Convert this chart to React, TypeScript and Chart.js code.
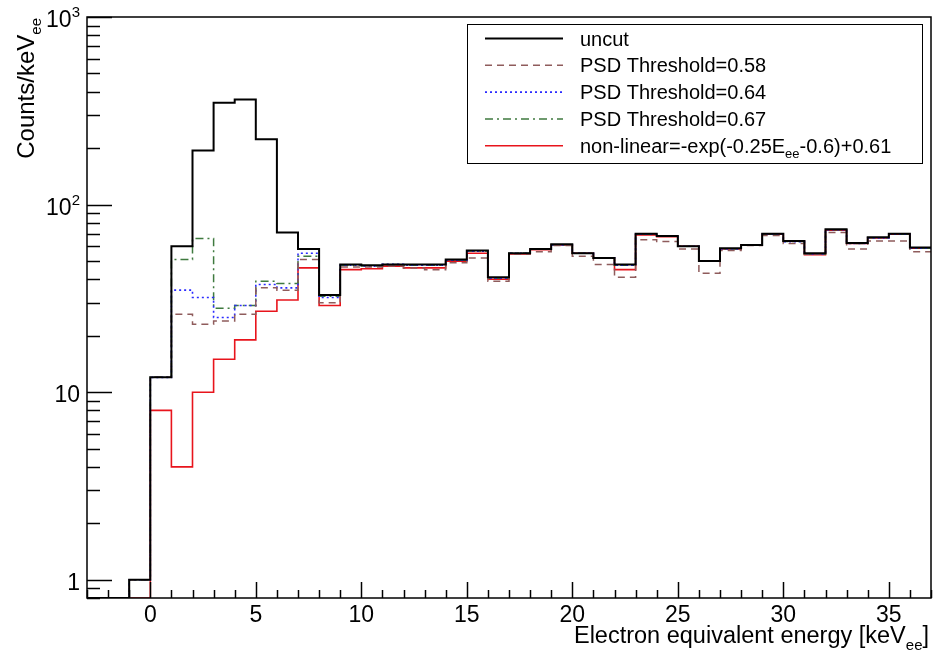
import React, { useEffect, useRef } from "react";
import { Chart, registerables } from "chart.js";

Chart.register(...registerables);

// ---- data ----
const BIN_LOW = [-1, 0, 1, 2, 3, 4, 5, 6, 7, 8, 9, 10, 11, 12, 13, 14, 15, 16, 17, 18, 19, 20, 21, 22, 23, 24, 25, 26, 27, 28, 29, 30, 31, 32, 33, 34, 35, 36];
const BIN_WIDTH = 1;

const UNCUT = [1, 12, 60, 194, 349, 363, 223, 71, 58, 33, 48, 47.5, 48, 48, 48, 51, 57, 41, 55, 58, 61.5, 55, 52, 48, 70, 68, 60, 50, 58.5, 61, 70, 64, 55, 74, 62.5, 67, 70, 59];
const PSD_058 = [1, 12, 26, 23, 24, 26, 36, 35, 51, 30, 46.5, 46.5, 47, 46, 45, 49, 52, 39, 54.5, 56, 60.5, 53, 48, 41, 65, 63.5, 58, 43, 57, 60.5, 68.5, 62, 54.5, 71, 58, 64, 64, 56];
const PSD_064 = [1, 12, 35, 32, 25, 29, 37.5, 36, 55, 32, 47.5, 47, 48, 47.5, 47.5, 50.5, 56.5, 40.5, 55, 58, 61, 55, 52, 47.5, 69.5, 68, 60, 50, 58, 61, 69.5, 63.5, 54.5, 73.5, 62, 66.5, 69.5, 58.5];
const PSD_067 = [1, 12, 51, 66, 28, 29, 39, 38, 53, 32.5, 47.5, 47, 48, 47.5, 47.5, 50.5, 56.5, 40.5, 55, 58, 61, 55, 52, 47.5, 69.5, 68, 60, 50, 58, 61, 69.5, 63.5, 54.5, 73.5, 62, 66.5, 69.5, 58.5];
const NONLINEAR = [0, 8, 4, 10, 15, 19, 27, 31, 46, 29, 45, 45.5, 47, 46, 46, 50, 55, 40, 54.5, 57.5, 61, 55, 52, 45, 69, 67.5, 60, 50, 58, 61, 69.5, 64, 54, 73, 62, 66.5, 69.5, 58.5];

const SERIES_NAMES = [
  "uncut",
  "PSD Threshold=0.58",
  "PSD Threshold=0.64",
  "PSD Threshold=0.67",
  "non-linear=-exp(-0.25E_{ee}-0.6)+0.61",
];

const X_MIN = -3;
const X_MAX = 37;
const Y_MIN = 0.8;
const Y_MAX = 1000;
const X_MAJOR_TICKS = [0, 5, 10, 15, 20, 25, 30, 35];
const X_TICK_LABELS = ["0", "5", "10", "15", "20", "25", "30", "35"];
const Y_MAJOR_TICKS = [1, 10, 100, 1000];
const Y_TICK_LABELS = ["1", "10", "10^{2}", "10^{3}"];
const X_TITLE = "Electron equivalent energy [keV_{ee}]";
const Y_TITLE = "Counts/keV_{ee}";

const FONT = '"Liberation Sans", Arial, Helvetica, sans-serif';

type Seg = { t: string; k: number };
function parseRich(s: string): Seg[] {
  const out: Seg[] = [];
  let i = 0;
  let buf = "";
  while (i < s.length) {
    const c = s[i];
    if ((c === "_" || c === "^") && s[i + 1] === "{") {
      if (buf) out.push({ t: buf, k: 0 });
      buf = "";
      const end = s.indexOf("}", i);
      out.push({ t: s.slice(i + 2, end), k: c === "_" ? -1 : 1 });
      i = end + 1;
    } else {
      buf += c;
      i++;
    }
  }
  if (buf) out.push({ t: buf, k: 0 });
  return out;
}

function drawRich(ctx: CanvasRenderingContext2D, s: string, x: number, y: number, size: number, align: "left" | "right" | "center") {
  const segs = parseRich(s);
  const small = Math.round(size * 0.64);
  ctx.textAlign = "left";
  ctx.textBaseline = "alphabetic";
  const widths = segs.map((g) => {
    ctx.font = `${g.k === 0 ? size : small}px ${FONT}`;
    return ctx.measureText(g.t).width;
  });
  const total = widths.reduce((a, b) => a + b, 0);
  let cx = align === "left" ? x : align === "right" ? x - total : x - total / 2;
  segs.forEach((g, i) => {
    ctx.font = `${g.k === 0 ? size : small}px ${FONT}`;
    const dy = g.k === -1 ? size * 0.28 : g.k === 1 ? -size * 0.42 : 0;
    ctx.fillText(g.t, cx, y + dy);
    cx += widths[i];
  });
}

function buildPoints(vals: number[]) {
  const pts = [{ x: X_MIN, y: Y_MIN }];
  BIN_LOW.forEach((x, i) => pts.push({ x, y: vals[i] > 0 ? vals[i] : Y_MIN }));
  const last = vals[vals.length - 1];
  pts.push({ x: BIN_LOW[BIN_LOW.length - 1] + BIN_WIDTH, y: last > 0 ? last : Y_MIN });
  return pts;
}

const STYLES = [
  { color: "#000000", width: 2, dash: [] as number[] },
  { color: "#8f5c5c", width: 1.5, dash: [7, 5] },
  { color: "#2b2bff", width: 1.6, dash: [2, 3] },
  { color: "#3f7a3f", width: 1.5, dash: [8, 4, 2, 4] },
  { color: "#e8141c", width: 1.6, dash: [] as number[] },
];

const framePlugin = {
  id: "rootFrame",
  afterDraw(chart: any) {
    const ctx: CanvasRenderingContext2D = chart.ctx;
    const { left, right, top, bottom } = chart.chartArea;
    const xs = chart.scales.x;
    const ys = chart.scales.y;
    ctx.save();
    ctx.setLineDash([]);
    ctx.strokeStyle = "#000";
    ctx.fillStyle = "#000";
    ctx.lineWidth = 1.5;
    ctx.strokeRect(left, top, right - left, bottom - top);

    // x ticks
    ctx.lineWidth = 1.5;
    for (let v = Math.ceil(X_MIN); v <= X_MAX; v++) {
      const px = Math.round(xs.getPixelForValue(v)) + 0.5;
      const major = X_MAJOR_TICKS.includes(v);
      const len = major ? 16 : 8;
      ctx.beginPath();
      ctx.moveTo(px, bottom);
      ctx.lineTo(px, bottom - len);
      ctx.stroke();
    }
    X_MAJOR_TICKS.forEach((v, i) => {
      drawRich(ctx, X_TICK_LABELS[i], xs.getPixelForValue(v), bottom + 24, 23, "center");
    });

    // y ticks
    for (let d = 0.1; d < Y_MAX * 1.01; d *= 10) {
      for (let m = 1; m <= 9; m++) {
        const v = d * m;
        if (v < Y_MIN * 0.999 || v > Y_MAX * 1.001) continue;
        const major = m === 1;
        const py = Math.round(ys.getPixelForValue(v)) + 0.5;
        ctx.beginPath();
        ctx.moveTo(left, py);
        ctx.lineTo(left + (major ? 25 : 13), py);
        ctx.stroke();
      }
    }
    Y_MAJOR_TICKS.forEach((v, i) => {
      drawRich(ctx, Y_TICK_LABELS[i], left - 7, ys.getPixelForValue(v) + 10, 23, "right");
    });

    // axis titles
    drawRich(ctx, X_TITLE, 929, 643, 23.5, "right");
    ctx.save();
    ctx.translate(34, 18);
    ctx.rotate(-Math.PI / 2);
    drawRich(ctx, Y_TITLE, 0, 0, 24, "right");
    ctx.restore();

    // legend
    const lx = 467, ly = 24, lw = 455, lh = 139;
    ctx.fillStyle = "#fff";
    ctx.fillRect(lx, ly, lw, lh);
    ctx.lineWidth = 1;
    ctx.strokeStyle = "#000";
    ctx.strokeRect(lx + 0.5, ly + 0.5, lw, lh);
    SERIES_NAMES.forEach((name, i) => {
      const yy = 38.5 + i * 26.8;
      const st = STYLES[i];
      ctx.beginPath();
      ctx.setLineDash(st.dash);
      ctx.strokeStyle = st.color;
      ctx.lineWidth = st.width;
      ctx.moveTo(485, yy);
      ctx.lineTo(563, yy);
      ctx.stroke();
      ctx.setLineDash([]);
      ctx.fillStyle = "#000";
      drawRich(ctx, name, 580, yy + 7, 20, "left");
    });
    ctx.restore();
  },
};

export default function App() {
  const ref = useRef<HTMLCanvasElement | null>(null);
  useEffect(() => {
    document.body.style.margin = "0";
    const canvas = ref.current;
    if (!canvas) return;
    const allSeries = [UNCUT, PSD_058, PSD_064, PSD_067, NONLINEAR];
    const chart = new Chart(canvas, {
      type: "line",
      data: {
        datasets: allSeries.map((vals, i) => ({
          label: SERIES_NAMES[i],
          data: buildPoints(vals),
          stepped: "before" as const,
          borderColor: STYLES[i].color,
          borderWidth: STYLES[i].width,
          borderDash: STYLES[i].dash,
          borderCapStyle: "butt" as const,
          borderJoinStyle: "miter" as const,
          pointRadius: 0,
          fill: false,
          tension: 0,
        })),
      },
      options: {
        animation: false,
        responsive: false,
        events: [],
        layout: { padding: { left: 87, top: 17, right: 2, bottom: 55 } },
        scales: {
          x: { type: "linear", min: X_MIN, max: X_MAX, display: false },
          y: { type: "logarithmic", min: Y_MIN, max: Y_MAX, display: false },
        },
        plugins: { legend: { display: false }, tooltip: { enabled: false } },
      },
      plugins: [framePlugin],
    });
    return () => chart.destroy();
  }, []);
  return (
    <div style={{ position: "absolute", left: 0, top: 0, width: 933, height: 653, background: "#fff" }}>
      <canvas ref={ref} width={933} height={653} />
    </div>
  );
}
